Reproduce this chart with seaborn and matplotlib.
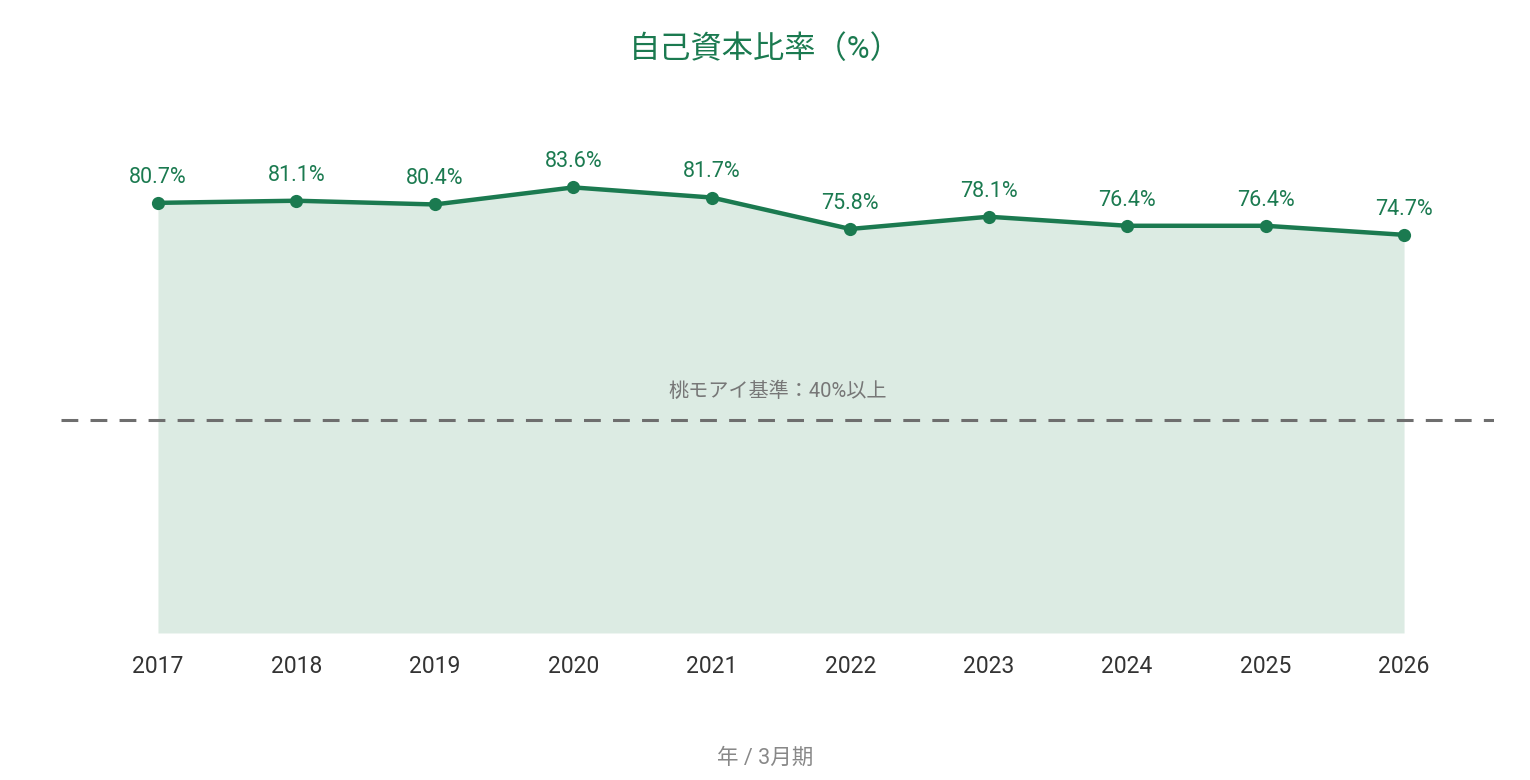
import pandas as pd
import matplotlib.pyplot as plt
import seaborn as sns

# 自己資本比率 data (年 / 3月期)
years = ["2017", "2018", "2019", "2020", "2021", "2022", "2023", "2024", "2025", "2026"]
equity_ratio = [80.7, 81.1, 80.4, 83.6, 81.7, 75.8, 78.1, 76.4, 76.4, 74.7]
benchmark = 40
benchmark_label = "桃モアイ基準：40%以上"

GREEN = "#1b7a50"
FILL = "#dcebe3"

sns.set_style("white")
# Roboto for digits, Noto CJK for the Japanese glyphs
plt.rcParams['font.family'] = ['Roboto', 'Noto Sans CJK JP', 'DejaVu Sans']

df = pd.DataFrame({"year": years, "ratio": equity_ratio})
df["pos"] = range(len(df))

fig = plt.figure(figsize=(15.3, 7.8), dpi=100)
ax = fig.add_axes([0.0399, 0.1885, 0.9366, 0.6833])

ax.fill_between(df["pos"], 0, df["ratio"], color=FILL, linewidth=0, zorder=1)
ax.axhline(benchmark, color="#6e6e6e", linestyle=(0, (5.5, 4)), linewidth=2.2, zorder=2)
sns.lineplot(data=df, x="pos", y="ratio", color=GREEN, linewidth=3.2, marker="o",
             markersize=9.5, markeredgewidth=0, ax=ax, zorder=3)

for p, v in zip(df["pos"], df["ratio"]):
    ax.annotate(f"{v}%", (p, v), xytext=(0, 18.5), textcoords="offset points",
                ha="center", va="center", fontsize=15.5, color=GREEN)

ax.text(0.5, benchmark + 5.3, benchmark_label, transform=ax.get_yaxis_transform(),
        ha="center", va="center", fontsize=14.5, color="#777777")

ax.set_xlim(-0.70, 9.65)
ax.set_ylim(0, 100)
ax.set_xticks(df["pos"])
ax.set_xticklabels(years, fontsize=16.5, color="#333333")
ax.set_yticks([])
ax.tick_params(axis="x", length=0, pad=16)
ax.set_xlabel("")
ax.set_ylabel("")
sns.despine(ax=ax, left=True, bottom=True)

fig.text(0.5, 0.937, "自己資本比率（%）", ha="center", va="center", fontsize=22.5, color=GREEN)
fig.text(0.5, 0.028, "年 / 3月期", ha="center", va="center", fontsize=15.5, color="#888888")

fig.savefig("out.png", dpi=100)
plt.close(fig)
